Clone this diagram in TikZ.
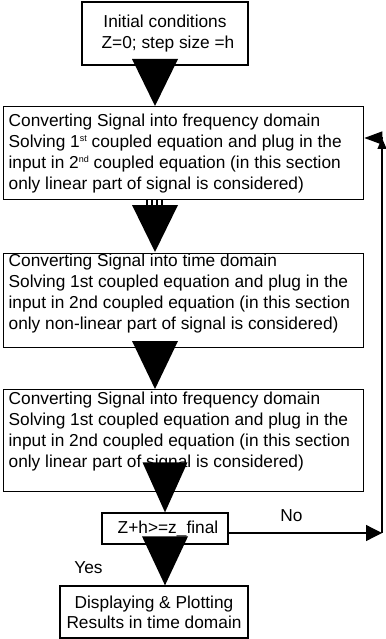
\documentclass[tikz,border=0pt]{standalone}
\usepackage{fontspec}
\setmainfont{Liberation Sans}
\usetikzlibrary{arrows.meta,calc}

% top-aligned paragraph of a fixed height: #1 height, #2 top gap, #3 text
\newcommand\flowpar[3]{\parbox[c][#1][t]{350bp}{\vspace*{#2}\raggedright #3}}
% small raised ordinal suffix
\newcommand\ordsup[1]{\raisebox{6bp}{\fontsize{9bp}{9bp}\selectfont #1}}

\begin{document}
\begin{tikzpicture}[x=1bp,y=-1bp,
  every node/.style={font=\fontsize{17.3bp}{21bp}\selectfont, inner sep=0pt},
  box/.style={draw, line width=1.3bp},
  stage/.style={box, anchor=north west, inner xsep=5bp, inner ysep=0pt},
  head/.style={fill=black},
  link/.style={line width=1.3bp}]
\useasboundingbox (0,0) rectangle (385,639);

% boxes
\node[box, minimum width=166bp, minimum height=63bp, align=center] (init) at (165,33.5)
  {Initial conditions\\\hspace*{6bp}Z=0; step size =h};

\node[stage] (s1) at (3,106) {\flowpar{93bp}{7.5bp}{Converting Signal into frequency domain\\
  Solving 1\ordsup{st} coupled equation and plug in the\\
  input in 2\ordsup{nd} coupled equation (in this section\\
  only linear part of signal is considered)}};

\node[stage] (s2) at (3,253) {\flowpar{94bp}{0bp}{Converting Signal into time domain\\
  Solving 1st coupled equation and plug in the\\
  input in 2nd coupled equation (in this section\\
  only non-linear part of signal is considered)}};

\node[stage] (s3) at (3,389) {\flowpar{102bp}{2.4bp}{Converting Signal into frequency domain\\
  Solving 1st coupled equation and plug in the\\
  input in 2nd coupled equation (in this section\\
  only linear part of signal is considered)}};

\node[box, minimum width=126bp, minimum height=31bp] (dec) at (165,528.5)
  {\raisebox{-4bp}{\hspace*{6bp}Z+h>=z\_final}};

\node[box, minimum width=188bp, minimum height=52bp, align=center,
  font=\fontsize{17.3bp}{20bp}\selectfont] (res) at (154,612)
  {Displaying \& Plotting\\Results in time domain};

% branch labels
\node (yes) at (88.5,568) {Yes};
\node (no) at (291.5,516) {No};

% connector heads between the stages
\path (init.south -| 155,0) coordinate (a0) (s1.north -| 155,0) coordinate (a1);
\fill[head] (a1) -- ++(-23,-47) -- ++(46,0) -- cycle;

\path (s1.south -| 155,0) coordinate (b0) (s2.north -| 155,0) coordinate (b1);
\foreach \dx in {-8,-3,2,7}
  \draw[line width=1.4bp] ($(b0)+(\dx,0)$) -- ++(0,5);
\fill[head] ($(b1)+(0,-1)$) -- ++(-23,-47) -- ++(46,0) -- cycle;

\path (s2.south -| 155,0) coordinate (c0) (s3.north -| 155,0) coordinate (c1);
\fill[head] (c1) -- ++(-23,-48) -- ++(46,0) -- cycle;

\path (s3.south -| 165,0) coordinate (d0) (dec.north -| 165,0) coordinate (d1);
\fill[head] (d1) -- ++(-22.5,-50) -- ++(45,0) -- cycle;

\path (dec.south -| 165,0) coordinate (e0) (res.north -| 165,0) coordinate (e1);
\fill[head] (e1) -- ++(-23,-49) -- ++(46,0) -- cycle;

% "No" loop back to the first stage
\coordinate (loopa) at (382,533);
\coordinate (loopb) at (382,138);
\draw[link, -{Triangle[length=16bp,width=16bp]}] (dec.east |- loopa) -- (loopa);
\draw[link, -{Triangle[length=11bp,width=9bp]}] (loopa) -- (loopb);
\draw[link, -{Triangle[length=18bp,width=13bp]}] (loopb) -- (s1.east |- loopb);
\end{tikzpicture}
\end{document}
